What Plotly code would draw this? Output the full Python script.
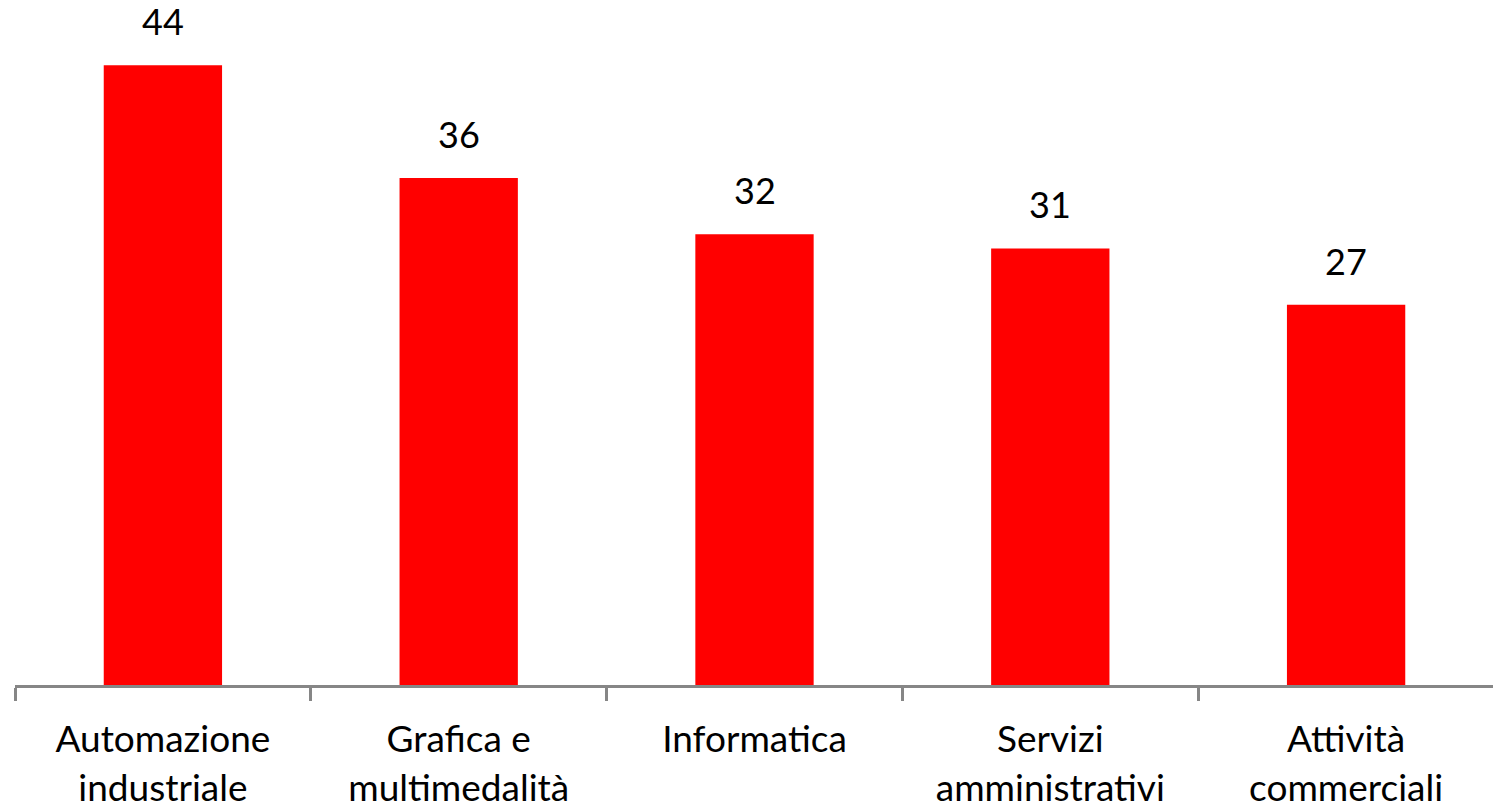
import plotly.graph_objects as go

categories = ["Automazione<br>industriale", "Grafica e<br>multimedalità", "Informatica",
              "Servizi<br>amministrativi", "Attività<br>commerciali"]
values = [44, 36, 32, 31, 27]

FONT = "Lato, Open Sans, sans-serif"

fig = go.Figure(go.Bar(x=categories, y=values, marker=dict(color="#FF0000", line=dict(width=0))))

for c, v in zip(categories, values):
    fig.add_annotation(x=c, y=v, text=str(v), showarrow=False, yanchor="bottom",
                       yshift=20, font=dict(family=FONT, size=36, color="black"))

fig.update_layout(
    width=1493, height=799,
    margin=dict(l=7, r=7, t=1, b=122),
    paper_bgcolor="white", plot_bgcolor="white",
    bargap=0.6, showlegend=False,
    font=dict(family=FONT, size=37, color="black"),
)
fig.update_xaxes(showline=True, linecolor="#868686", linewidth=3,
                 ticks="outside", tickson="boundaries", ticklen=13, tickwidth=3,
                 tickcolor="#868686", showgrid=False, ticklabelstandoff=20,
                 automargin=False,
                 tickfont=dict(family=FONT, size=37, color="black"))
fig.update_yaxes(range=[0, 48], visible=False, showgrid=False, zeroline=False)

fig.write_html("out.html")
